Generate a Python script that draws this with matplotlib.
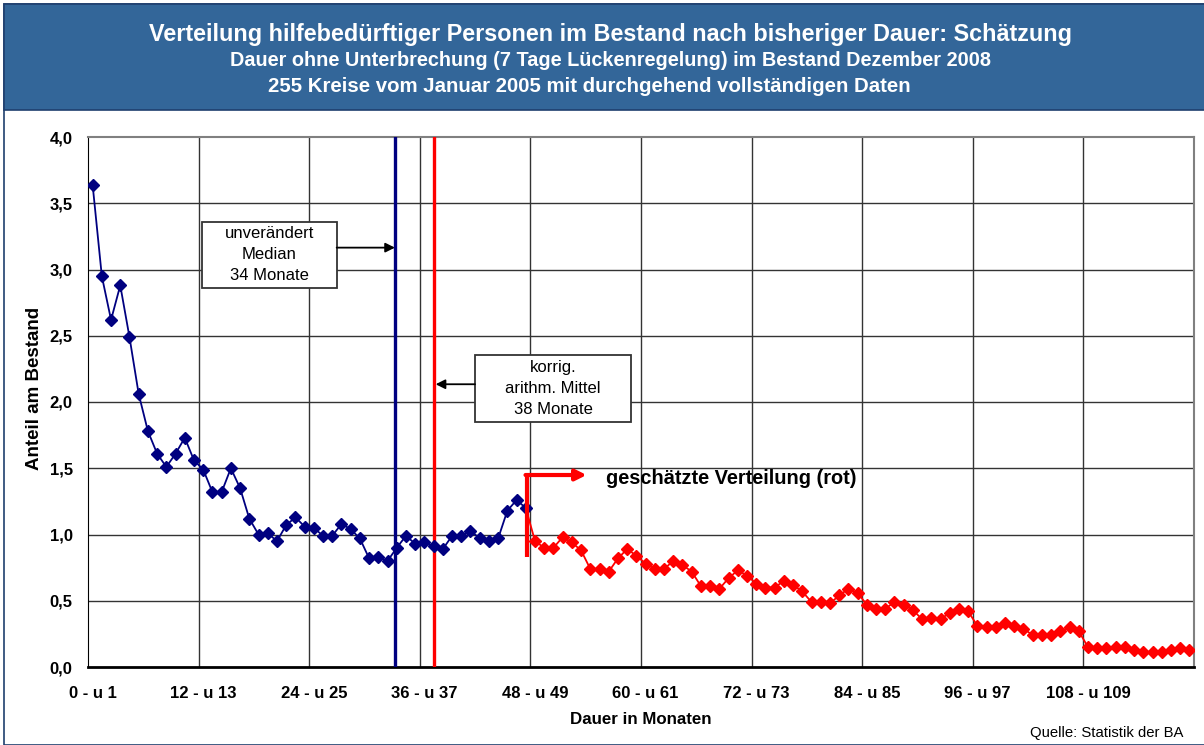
import matplotlib
matplotlib.use("Agg")
import matplotlib.pyplot as plt
from matplotlib.patches import Rectangle

plt.rcParams['font.family'] = ['Liberation Sans', 'DejaVu Sans']

# Anteil am Bestand (%), Dauer 0..47 Monate (Bestand, blau)
blue_vals = [3.64, 2.95, 2.62, 2.88, 2.49, 2.06, 1.78, 1.61, 1.51, 1.61,
             1.73, 1.56, 1.49, 1.32, 1.32, 1.50, 1.35, 1.12, 1.00, 1.01,
             0.95, 1.07, 1.13, 1.06, 1.05, 0.99, 0.99, 1.08, 1.04, 0.97,
             0.82, 0.83, 0.80, 0.90, 0.99, 0.93, 0.94, 0.91, 0.89, 0.99,
             0.99, 1.03, 0.97, 0.95, 0.97, 1.18, 1.26, 1.20]
# geschaetzte Verteilung, Dauer 48..119 Monate (rot)
red_vals = [0.95, 0.90, 0.90, 0.98, 0.94, 0.88, 0.74, 0.74, 0.72, 0.82,
            0.89, 0.84, 0.78, 0.74, 0.74, 0.80, 0.77, 0.72, 0.61, 0.61,
            0.59, 0.67, 0.73, 0.69, 0.63, 0.60, 0.60, 0.65, 0.62, 0.57,
            0.49, 0.49, 0.48, 0.54, 0.59, 0.56, 0.47, 0.44, 0.44, 0.49,
            0.47, 0.43, 0.36, 0.37, 0.36, 0.41, 0.44, 0.42, 0.31, 0.30,
            0.30, 0.33, 0.31, 0.29, 0.24, 0.24, 0.24, 0.27, 0.30, 0.27,
            0.15, 0.14, 0.14, 0.15, 0.15, 0.13, 0.11, 0.11, 0.11, 0.13,
            0.14, 0.13]
tick_labels = ['0 - u 1', '12 - u 13', '24 - u 25', '36 - u 37', '48 - u 49',
               '60 - u 61', '72 - u 73', '84 - u 85', '96 - u 97', '108 - u 109']
y_ticks = [0.0, 0.5, 1.0, 1.5, 2.0, 2.5, 3.0, 3.5, 4.0]

median_pos = 32.8
mean_pos = 37.07

blue_x = list(range(len(blue_vals)))
red_x = list(range(len(blue_vals), len(blue_vals) + len(red_vals)))

fig = plt.figure(figsize=(12.04, 7.45), dpi=100)

# frame + header band
W, H = 1204, 745
fig.patches.append(Rectangle((4 / W, 0), 1, 1 - 4 / H, transform=fig.transFigure,
                             facecolor='white', edgecolor='#1F3F6E', lw=1.2, zorder=0))
fig.patches.append(Rectangle((4 / W, 1 - 110 / H), 1, 106 / H, transform=fig.transFigure,
                             facecolor='#336699', edgecolor='#1F3F6E', lw=1.2, zorder=0.5))
fig.text(0.507, 1 - 35 / H, 'Verteilung hilfebedürftiger Personen im Bestand nach bisheriger Dauer: Schätzung',
         color='white', fontsize=16.8, fontweight='bold', ha='center', va='center')
fig.text(0.507, 1 - 61 / H, 'Dauer ohne Unterbrechung (7 Tage Lückenregelung) im Bestand Dezember 2008',
         color='white', fontsize=14.3, fontweight='bold', ha='center', va='center')
fig.text(0.4896, 1 - 86 / H, '255 Kreise vom Januar 2005 mit durchgehend vollständigen Daten',
         color='white', fontsize=14.7, fontweight='bold', ha='center', va='center')

ax = fig.add_axes([88 / W, 1 - 667 / H, (1194 - 88) / W, (667 - 137) / H])
ax.set_zorder(2)
ax.set_xlim(-0.5, 119.5)
ax.set_ylim(0, 4.0)

for y in y_ticks[1:-1]:
    ax.axhline(y, color='#333333', lw=1, zorder=1)
for x in range(12, 120, 12):
    ax.axvline(x - 0.5, color='#333333', lw=1, zorder=1)

ax.axvline(median_pos, color='#000080', lw=2.4, zorder=3)
ax.axvline(mean_pos, color='#FF0000', lw=2.4, zorder=3)

ax.plot([blue_x[-1]] + red_x, [blue_vals[-1]] + red_vals, color='#FF0000', lw=1.3, zorder=4)
ax.plot(red_x, red_vals, ls='none', marker='D', ms=6, color='#FF0000', zorder=5)
ax.plot(blue_x, blue_vals, color='#000080', lw=1.3, marker='D', ms=6, zorder=6)

# Hinweis-Boxen
arrow = dict(arrowstyle='-|>', color='black', lw=1.3, mutation_scale=14, shrinkA=0, shrinkB=0)
ax.add_patch(Rectangle((11.84, 2.858), 26.48 - 11.84, 3.361 - 2.858,
                       facecolor='white', edgecolor='#333333', lw=1.3, zorder=7))
ax.text(19.16, 3.11, 'unverändert\nMedian\n34 Monate', ha='center', va='center',
        fontsize=12, linespacing=1.5, zorder=8)
ax.annotate('', xy=(median_pos, 3.165), xytext=(26.48, 3.165), arrowprops=arrow, zorder=7)
ax.add_patch(Rectangle((41.49, 1.851), 58.42 - 41.49, 2.355 - 1.851,
                       facecolor='white', edgecolor='#333333', lw=1.3, zorder=7))
ax.text(49.95, 2.103, 'korrig.\narithm. Mittel\n38 Monate', ha='center', va='center',
        fontsize=12, linespacing=1.5, zorder=8)
ax.annotate('', xy=(mean_pos + 0.15, 2.134), xytext=(41.49, 2.134), arrowprops=arrow, zorder=7)

# geschaetzte Verteilung
ax.plot([47.13, 47.13], [0.83, 1.449], color='#FF0000', lw=3, zorder=7, solid_capstyle='butt')
ax.annotate('', xy=(53.6, 1.449), xytext=(46.97, 1.449),
            arrowprops=dict(arrowstyle='-|>', color='#FF0000', lw=3, mutation_scale=16,
                            shrinkA=0, shrinkB=0), zorder=7)
ax.text(55.65, 1.42, 'geschätzte Verteilung (rot)', fontsize=14.45, fontweight='bold',
        ha='left', va='center', zorder=7)

ax.set_yticks(y_ticks)
ax.set_yticklabels([f'{v:.1f}'.replace('.', ',') for v in y_ticks], fontsize=12, fontweight='bold')
ax.set_xticks(list(range(0, 120, 12)))
ax.set_xticklabels(tick_labels, fontsize=12, fontweight='bold')
ax.tick_params(axis='both', length=0)
ax.tick_params(axis='y', pad=11)
ax.tick_params(axis='x', pad=14)

fig.text(35 / W, 1 - 388 / H, 'Anteil am Bestand', fontsize=13.5, fontweight='bold',
         rotation=90, ha='center', va='center')
fig.text(0.532, 1 - 720 / H, 'Dauer in Monaten', fontsize=12.2, fontweight='bold', ha='center', va='center')
fig.text(1183 / W, 1 - 733 / H, 'Quelle: Statistik der BA', fontsize=10.7, ha='right', va='center')

for s in ['top', 'right']:
    ax.spines[s].set_color('#808080')
    ax.spines[s].set_linewidth(1.5)
ax.spines['left'].set_color('black')
ax.spines['bottom'].set_color('black')
ax.spines['bottom'].set_linewidth(2)

fig.savefig('out.png', dpi=100)
